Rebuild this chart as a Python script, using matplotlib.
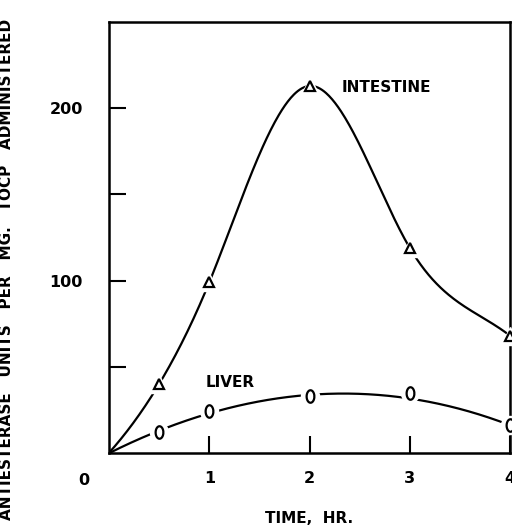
import numpy as np
import matplotlib.pyplot as plt
from matplotlib.path import Path

# values
time_hr = [0, 0.5, 1, 2, 3, 4]
intestine = [0, 40, 99, 213, 119, 68]
liver = [0, 12, 24, 33, 35, 16]
x_ticks = [1, 2, 3, 4]
y_ticks = [50, 100, 150, 200]
y_ticklabels = ['', '100', '', '200']


def clamped_spline(x, y, xs, s0, s1):
    # cubic spline with given end slopes, enough for a smooth hand-drawn look
    x = np.asarray(x, float)
    y = np.asarray(y, float)
    n = len(x)
    h = np.diff(x)
    A = np.zeros((n, n))
    b = np.zeros(n)
    A[0, 0], A[0, 1] = 2 * h[0], h[0]
    b[0] = 3 * ((y[1] - y[0]) / h[0] - s0)
    A[-1, -2], A[-1, -1] = h[-1], 2 * h[-1]
    b[-1] = 3 * (s1 - (y[-1] - y[-2]) / h[-1])
    for i in range(1, n - 1):
        A[i, i - 1] = h[i - 1]
        A[i, i] = 2 * (h[i - 1] + h[i])
        A[i, i + 1] = h[i]
        b[i] = 3 * ((y[i + 1] - y[i]) / h[i] - (y[i] - y[i - 1]) / h[i - 1])
    c = np.linalg.solve(A, b)
    out = np.empty_like(xs)
    for k, xv in enumerate(xs):
        i = int(np.clip(np.searchsorted(x, xv, side='right') - 1, 0, n - 2))
        d = xv - x[i]
        bb = (y[i + 1] - y[i]) / h[i] - h[i] * (2 * c[i] + c[i + 1]) / 3
        dd = (c[i + 1] - c[i]) / (3 * h[i])
        out[k] = y[i] + bb * d + c[i] * d ** 2 + dd * d ** 3
    return out


plt.rcParams['font.family'] = 'DejaVu Sans'
plt.rcParams['font.weight'] = 'bold'

fig = plt.figure(figsize=(5.12, 5.29), dpi=100)
ax = fig.add_axes([0.213, 0.144, 0.783, 0.814])

xs = np.linspace(0, 4, 400)
ax.plot(xs, clamped_spline(time_hr, intestine, xs, 65, -45), color='black', lw=1.6, zorder=2)
w = [1, 1, 1, 1, 0.3, 1]
ax.plot(xs, np.polyval(np.polyfit(time_hr, liver, 3, w=w), xs), color='black', lw=1.6, zorder=2)

# oval "0" style marker
t = np.linspace(0, 2 * np.pi, 40)
oval = Path(np.column_stack([0.62 * np.cos(t), np.sin(t)]))

# white halo so the line breaks around each marker
ax.plot(time_hr[1:], intestine[1:], ls='none', marker='^', ms=13, mfc='white', mec='white', zorder=3, clip_on=False)
ax.plot(time_hr[1:], liver[1:], ls='none', marker='o', ms=13, mfc='white', mec='white', zorder=3, clip_on=False)
ax.plot(time_hr[1:], intestine[1:], ls='none', marker='^', ms=7, mfc='white', mec='black', mew=1.6, zorder=4, clip_on=False)
ax.plot(time_hr[1:], liver[1:], ls='none', marker=oval, ms=9, mfc='white', mec='black', mew=1.6, zorder=4, clip_on=False)

ax.text(2.32, 212, 'INTESTINE', fontsize=11, fontweight='bold', va='center', ha='left')
ax.text(0.96, 41, 'LIVER', fontsize=11, fontweight='bold', va='center', ha='left')

ax.set_xlim(0, 4)
ax.set_ylim(0, 250)
ax.set_xticks(x_ticks)
ax.set_xticklabels([str(v) for v in x_ticks])
ax.set_yticks(y_ticks)
ax.set_yticklabels(y_ticklabels)
ax.tick_params(direction='in', length=12, width=1.5, labelsize=11.5, pad=13)
ax.tick_params(axis='y', pad=19)
for s in ax.spines.values():
    s.set_linewidth(1.8)

ax.text(-0.25, -16, '0', fontsize=11.5, fontweight='bold', ha='center', va='center')
ax.set_xlabel('TIME,  HR.', fontsize=11, fontweight='bold', labelpad=18)
ax.set_ylabel('ANTIESTERASE   UNITS   PER   MG.   TOCP   ADMINISTERED',
              fontsize=11, fontweight='bold')
ax.yaxis.set_label_coords(-0.236, 0.425)

fig.savefig('out.png', dpi=100)
